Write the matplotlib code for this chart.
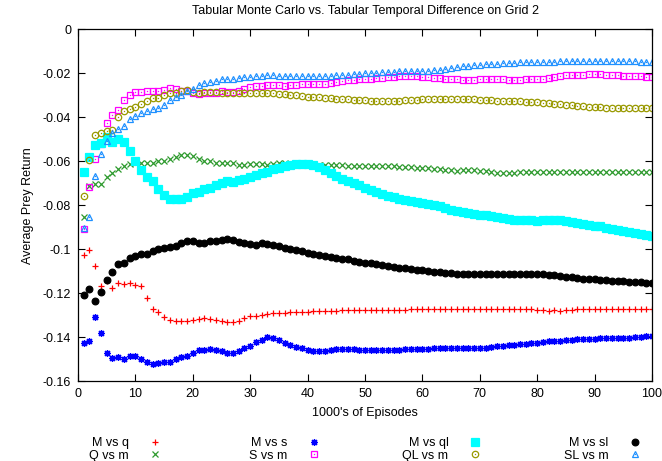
import numpy as np
import matplotlib; matplotlib.use("Agg"); import matplotlib.pyplot as plt
from matplotlib.ticker import FuncFormatter

plt.rcParams['font.family'] = ['Liberation Sans', 'DejaVu Sans']
plt.rcParams['axes.unicode_minus'] = False

episodes = np.arange(1, 101)   # 1000's of episodes

m_vs_q = [-0.1027,-0.1003,-0.1076,-0.1170,-0.1144,-0.1179,-0.1156,-0.1159,-0.1155,-0.1164,
          -0.1167,-0.1224,-0.1273,-0.1288,-0.1310,-0.1323,-0.1329,-0.1329,-0.1329,-0.1324,
          -0.1317,-0.1314,-0.1318,-0.1323,-0.1326,-0.1330,-0.1330,-0.1326,-0.1315,-0.1306,
          -0.1306,-0.1298,-0.1294,-0.1292,-0.1290,-0.1290,-0.1288,-0.1287,-0.1286,-0.1284,
          -0.1283,-0.1282,-0.1281,-0.1281,-0.1280,-0.1279,-0.1279,-0.1278,-0.1278,-0.1277,
          -0.1277,-0.1277,-0.1276,-0.1276,-0.1275,-0.1276,-0.1275,-0.1274,-0.1274,-0.1274,
          -0.1273,-0.1273,-0.1273,-0.1272,-0.1272,-0.1272,-0.1272,-0.1272,-0.1272,-0.1273,
          -0.1273,-0.1273,-0.1273,-0.1273,-0.1273,-0.1274,-0.1274,-0.1274,-0.1274,-0.1275,
          -0.1278,-0.1280,-0.1279,-0.1280,-0.1277,-0.1275,-0.1273,-0.1272,-0.1272,-0.1272,
          -0.1273,-0.1273,-0.1273,-0.1274,-0.1274,-0.1274,-0.1274,-0.1273,-0.1273,-0.1273]
q_vs_m = [-0.0852,-0.0712,-0.0705,-0.0705,-0.0674,-0.0652,-0.0635,-0.0623,-0.0612,-0.0606,
          -0.0606,-0.0606,-0.0606,-0.0600,-0.0597,-0.0589,-0.0579,-0.0571,-0.0571,-0.0576,
          -0.0589,-0.0597,-0.0600,-0.0606,-0.0610,-0.0606,-0.0606,-0.0617,-0.0617,-0.0614,
          -0.0614,-0.0614,-0.0617,-0.0612,-0.0610,-0.0610,-0.0611,-0.0612,-0.0613,-0.0614,
          -0.0615,-0.0617,-0.0618,-0.0618,-0.0619,-0.0619,-0.0620,-0.0620,-0.0621,-0.0621,
          -0.0622,-0.0622,-0.0623,-0.0623,-0.0624,-0.0625,-0.0626,-0.0628,-0.0630,-0.0632,
          -0.0633,-0.0635,-0.0637,-0.0640,-0.0642,-0.0643,-0.0642,-0.0641,-0.0642,-0.0644,
          -0.0646,-0.0649,-0.0652,-0.0652,-0.0652,-0.0652,-0.0651,-0.0650,-0.0649,-0.0649,
          -0.0648,-0.0648,-0.0648,-0.0649,-0.0648,-0.0648,-0.0648,-0.0648,-0.0649,-0.0648,
          -0.0648,-0.0648,-0.0648,-0.0648,-0.0648,-0.0649,-0.0648,-0.0648,-0.0648,-0.0648]
m_vs_s = [-0.1429,-0.1417,-0.1310,-0.1383,-0.1474,-0.1497,-0.1492,-0.1500,-0.1488,-0.1485,
          -0.1500,-0.1512,-0.1523,-0.1518,-0.1515,-0.1512,-0.1500,-0.1492,-0.1485,-0.1474,
          -0.1459,-0.1458,-0.1455,-0.1458,-0.1462,-0.1473,-0.1473,-0.1462,-0.1452,-0.1440,
          -0.1424,-0.1412,-0.1400,-0.1405,-0.1415,-0.1425,-0.1435,-0.1445,-0.1452,-0.1458,
          -0.1462,-0.1465,-0.1462,-0.1458,-0.1456,-0.1454,-0.1453,-0.1455,-0.1458,-0.1460,
          -0.1460,-0.1460,-0.1459,-0.1459,-0.1458,-0.1457,-0.1456,-0.1455,-0.1455,-0.1455,
          -0.1453,-0.1452,-0.1451,-0.1450,-0.1449,-0.1448,-0.1448,-0.1448,-0.1449,-0.1450,
          -0.1448,-0.1445,-0.1442,-0.1440,-0.1438,-0.1435,-0.1432,-0.1430,-0.1427,-0.1425,
          -0.1422,-0.1420,-0.1418,-0.1416,-0.1414,-0.1412,-0.1411,-0.1410,-0.1408,-0.1407,
          -0.1406,-0.1406,-0.1406,-0.1406,-0.1405,-0.1403,-0.1401,-0.1399,-0.1396,-0.1394]
s_vs_m = [-0.0909,-0.0717,-0.0591,-0.0520,-0.0427,-0.0391,-0.0367,-0.0323,-0.0300,-0.0285,
          -0.0285,-0.0280,-0.0280,-0.0280,-0.0277,-0.0268,-0.0273,-0.0280,-0.0280,-0.0290,
          -0.0295,-0.0290,-0.0288,-0.0288,-0.0280,-0.0285,-0.0285,-0.0280,-0.0273,-0.0262,
          -0.0258,-0.0258,-0.0252,-0.0255,-0.0255,-0.0258,-0.0255,-0.0253,-0.0250,-0.0247,
          -0.0248,-0.0250,-0.0250,-0.0245,-0.0240,-0.0235,-0.0232,-0.0230,-0.0227,-0.0227,
          -0.0226,-0.0223,-0.0220,-0.0217,-0.0215,-0.0214,-0.0213,-0.0212,-0.0213,-0.0215,
          -0.0218,-0.0220,-0.0223,-0.0225,-0.0227,-0.0228,-0.0229,-0.0230,-0.0229,-0.0228,
          -0.0227,-0.0227,-0.0227,-0.0228,-0.0229,-0.0230,-0.0229,-0.0227,-0.0226,-0.0225,
          -0.0224,-0.0222,-0.0217,-0.0214,-0.0210,-0.0208,-0.0207,-0.0206,-0.0205,-0.0205,
          -0.0205,-0.0206,-0.0208,-0.0209,-0.0211,-0.0212,-0.0213,-0.0214,-0.0215,-0.0215]
m_vs_ql = [-0.0647,-0.0583,-0.0527,-0.0515,-0.0492,-0.0512,-0.0497,-0.0512,-0.0553,-0.0598,
           -0.0640,-0.0674,-0.0692,-0.0727,-0.0755,-0.0770,-0.0773,-0.0773,-0.0765,-0.0745,
           -0.0738,-0.0727,-0.0720,-0.0708,-0.0697,-0.0690,-0.0694,-0.0685,-0.0679,-0.0670,
           -0.0664,-0.0656,-0.0647,-0.0636,-0.0630,-0.0624,-0.0618,-0.0614,-0.0611,-0.0612,
           -0.0618,-0.0628,-0.0640,-0.0655,-0.0667,-0.0680,-0.0690,-0.0700,-0.0710,-0.0720,
           -0.0730,-0.0740,-0.0750,-0.0758,-0.0765,-0.0770,-0.0776,-0.0781,-0.0786,-0.0790,
           -0.0795,-0.0800,-0.0806,-0.0812,-0.0821,-0.0826,-0.0830,-0.0834,-0.0838,-0.0843,
           -0.0847,-0.0851,-0.0856,-0.0860,-0.0864,-0.0866,-0.0867,-0.0867,-0.0869,-0.0871,
           -0.0869,-0.0868,-0.0868,-0.0869,-0.0871,-0.0877,-0.0883,-0.0887,-0.0890,-0.0894,
           -0.0897,-0.0904,-0.0908,-0.0914,-0.0918,-0.0921,-0.0926,-0.0929,-0.0934,-0.0939]
ql_vs_m = [-0.0760,-0.0594,-0.0482,-0.0470,-0.0462,-0.0460,-0.0398,-0.0371,-0.0364,-0.0352,
           -0.0341,-0.0326,-0.0314,-0.0311,-0.0298,-0.0291,-0.0288,-0.0280,-0.0276,-0.0285,
           -0.0288,-0.0285,-0.0285,-0.0285,-0.0288,-0.0291,-0.0291,-0.0288,-0.0288,-0.0291,
           -0.0291,-0.0291,-0.0291,-0.0292,-0.0294,-0.0296,-0.0298,-0.0300,-0.0303,-0.0306,
           -0.0308,-0.0310,-0.0312,-0.0313,-0.0315,-0.0317,-0.0318,-0.0320,-0.0321,-0.0323,
           -0.0324,-0.0326,-0.0326,-0.0326,-0.0325,-0.0324,-0.0322,-0.0321,-0.0320,-0.0319,
           -0.0318,-0.0318,-0.0317,-0.0316,-0.0315,-0.0316,-0.0317,-0.0318,-0.0319,-0.0320,
           -0.0322,-0.0323,-0.0324,-0.0325,-0.0326,-0.0327,-0.0328,-0.0330,-0.0331,-0.0332,
           -0.0334,-0.0336,-0.0338,-0.0340,-0.0343,-0.0345,-0.0348,-0.0350,-0.0352,-0.0354,
           -0.0355,-0.0356,-0.0356,-0.0356,-0.0356,-0.0357,-0.0358,-0.0359,-0.0360,-0.0360]
m_vs_sl = [-0.1209,-0.1182,-0.1238,-0.1197,-0.1140,-0.1103,-0.1068,-0.1064,-0.1041,-0.1030,
           -0.1020,-0.1023,-0.1008,-0.1000,-0.0995,-0.0992,-0.0985,-0.0970,-0.0962,-0.0962,
           -0.0970,-0.0974,-0.0962,-0.0962,-0.0959,-0.0952,-0.0959,-0.0967,-0.0970,-0.0977,
           -0.0980,-0.0973,-0.0977,-0.0982,-0.0988,-0.0994,-0.1000,-0.1005,-0.1010,-0.1016,
           -0.1021,-0.1026,-0.1031,-0.1035,-0.1039,-0.1043,-0.1047,-0.1052,-0.1057,-0.1061,
           -0.1065,-0.1070,-0.1074,-0.1077,-0.1080,-0.1084,-0.1087,-0.1090,-0.1094,-0.1097,
           -0.1100,-0.1103,-0.1106,-0.1108,-0.1110,-0.1111,-0.1111,-0.1112,-0.1113,-0.1114,
           -0.1113,-0.1112,-0.1111,-0.1111,-0.1111,-0.1111,-0.1111,-0.1111,-0.1111,-0.1112,
           -0.1114,-0.1116,-0.1119,-0.1122,-0.1125,-0.1128,-0.1131,-0.1134,-0.1136,-0.1138,
           -0.1140,-0.1142,-0.1144,-0.1145,-0.1147,-0.1148,-0.1149,-0.1150,-0.1152,-0.1153]
sl_vs_m = [-0.0906,-0.0852,-0.0667,-0.0568,-0.0510,-0.0470,-0.0455,-0.0442,-0.0409,-0.0394,
           -0.0379,-0.0371,-0.0361,-0.0356,-0.0345,-0.0321,-0.0306,-0.0300,-0.0280,-0.0270,
           -0.0255,-0.0245,-0.0242,-0.0235,-0.0227,-0.0224,-0.0227,-0.0220,-0.0217,-0.0217,
           -0.0212,-0.0212,-0.0209,-0.0210,-0.0211,-0.0212,-0.0212,-0.0212,-0.0212,-0.0212,
           -0.0212,-0.0212,-0.0212,-0.0211,-0.0210,-0.0209,-0.0206,-0.0204,-0.0202,-0.0200,
           -0.0198,-0.0197,-0.0195,-0.0193,-0.0192,-0.0190,-0.0189,-0.0189,-0.0189,-0.0189,
           -0.0188,-0.0186,-0.0183,-0.0180,-0.0176,-0.0172,-0.0168,-0.0165,-0.0162,-0.0161,
           -0.0160,-0.0158,-0.0157,-0.0155,-0.0154,-0.0152,-0.0151,-0.0150,-0.0149,-0.0149,
           -0.0148,-0.0148,-0.0147,-0.0146,-0.0146,-0.0145,-0.0145,-0.0144,-0.0144,-0.0144,
           -0.0144,-0.0144,-0.0144,-0.0145,-0.0145,-0.0146,-0.0146,-0.0147,-0.0147,-0.0148]

labels = ["M vs q", "Q vs m", "M vs s", "S vs m", "M vs ql", "QL vs m", "M vs sl", "SL vs m"]
series = [m_vs_q, q_vs_m, m_vs_s, s_vs_m, m_vs_ql, ql_vs_m, m_vs_sl, sl_vs_m]
# (marker, colour, size, filled, centre dot)
styles = [('+', '#ff0000', 5.0, False, False),
          ('x', '#2e9a2e', 4.5, False, False),
          ((8, 2, 0), '#0000ff', 5.0, False, False),
          ('s', '#ff00ff', 5.0, False, True),
          ('s', '#00ffff', 5.2, True, False),
          ('o', '#999900', 4.6, False, True),
          ('o', '#000000', 4.8, True, False),
          ('^', '#1e90ff', 5.0, False, True)]

fig = plt.figure(figsize=(6.62, 4.61), dpi=100)
ax = fig.add_axes([78/662, 1-381/461, (652-78)/662, (381-29.3)/461])

handles = []
for y, lab, (mk, col, ms, filled, dot) in zip(series, labels, styles):
    h, = ax.plot(episodes, y, ls='none', marker=mk, ms=ms, mew=0.9, color=col,
                 mfc=col if filled else 'none', mec=col, label=lab)
    if dot:
        d, = ax.plot(episodes, y, ls='none', marker='o', ms=1.0, mew=0, color=col)
        h = (h, d)
    handles.append(h)

ax.set_xlim(0, 100); ax.set_ylim(-0.16, 0)
ax.set_xticks(range(0, 101, 10)); ax.set_yticks(np.arange(-0.16, 0.001, 0.02))
ax.yaxis.set_major_formatter(FuncFormatter(lambda v, p: "%g" % round(v, 4) if abs(v) > 1e-9 else "0"))
ax.tick_params(direction='in', top=True, right=True, length=5, width=0.8, labelsize=9, pad=5)
for s in ax.spines.values(): s.set_linewidth(0.9)
ax.set_title("Tabular Monte Carlo vs. Tabular Temporal Difference on Grid 2", fontsize=9, pad=11)
ax.set_xlabel("1000's of Episodes", fontsize=9, labelpad=5)
ax.set_ylabel("Average Prey Return", fontsize=9, labelpad=6)

# gnuplot style key: 4 fixed-width columns, label then symbol
key_right = [161, 320, 481, 641]
for k, xr in enumerate(key_right):
    leg = fig.legend(handles[2*k:2*k+2], labels[2*k:2*k+2], loc='upper right',
                     bbox_to_anchor=(xr/662, 1-437/461), frameon=False, markerfirst=False,
                     handlelength=1.0, handletextpad=1.6, borderpad=0, borderaxespad=0,
                     labelspacing=0.05, fontsize=9, numpoints=1)

plt.savefig("out.png", dpi=100)
